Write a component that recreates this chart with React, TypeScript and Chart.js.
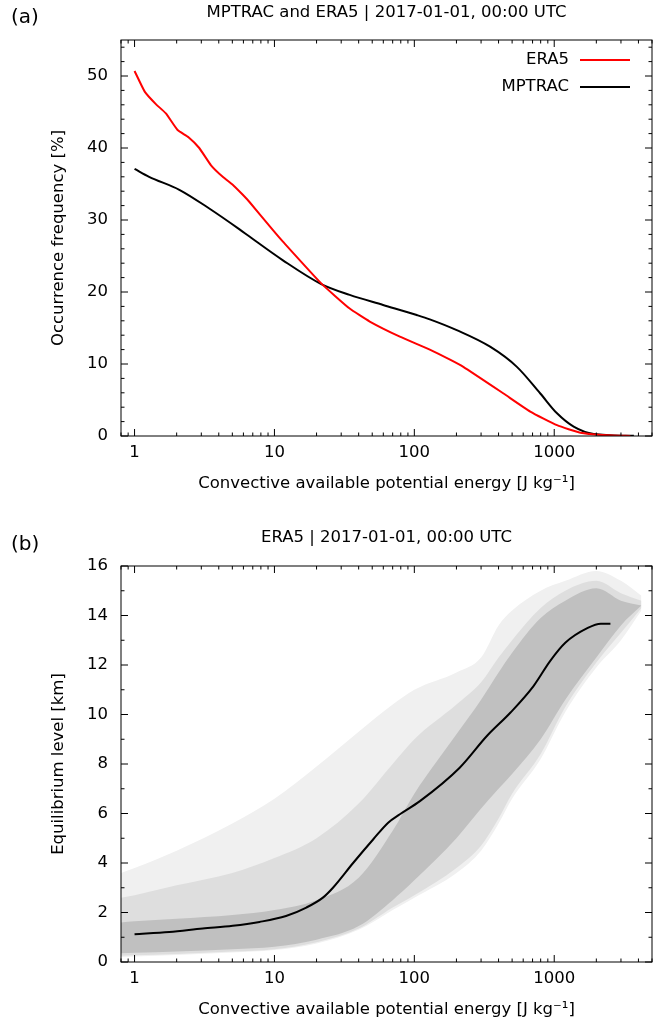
import React, { useEffect, useRef } from 'react';
import { Chart, registerables } from 'chart.js';
Chart.register(...registerables);

const FONT = "'DejaVu Sans', 'Noto Sans', sans-serif";
const FS = 16.5;

// ---------- Panel (a) data ----------
const era5Cape = [1, 1.185, 1.42, 1.675, 2.03, 2.43, 2.9, 3.52, 4.27, 5.03, 5.94, 6.63, 9.76, 11.5, 21.6, 34.5, 48, 78.8, 129, 180, 224, 434, 674, 1047, 1538, 2393, 3500];
const era5Freq = [50.7, 47.8, 46.1, 44.8, 42.5, 41.5, 40.0, 37.6, 36.0, 34.9, 33.5, 32.5, 28.6, 27.0, 21.2, 17.7, 15.9, 13.8, 12.0, 10.6, 9.6, 5.9, 3.4, 1.5, 0.46, 0.1, 0.0];
const mptracCape = [1, 1.27, 2.09, 3.42, 5.63, 6.63, 11.5, 21.6, 34.5, 59.8, 104, 129, 201, 348, 541, 795, 1047, 1377, 1916, 3710];
const mptracFreq = [37.1, 36.0, 34.2, 31.6, 28.7, 27.7, 24.4, 21.1, 19.6, 18.2, 16.8, 16.2, 14.7, 12.4, 9.6, 5.9, 3.15, 1.3, 0.28, 0.02];

// ---------- Panel (b) data ----------
const medianCape = [1, 1.77, 3.07, 5.03, 7.82, 12.1, 16.9, 22.2, 26.2, 36.5, 50.9, 65, 78.8, 109.6, 211, 330, 487, 711, 934, 1200, 1737, 2152, 2522];
const medianEL = [1.12, 1.21, 1.35, 1.46, 1.62, 1.86, 2.2, 2.6, 3.0, 4.0, 4.96, 5.63, 5.97, 6.5, 7.85, 9.13, 10.08, 11.15, 12.16, 12.9, 13.5, 13.67, 13.67];

// scatter cloud envelopes (sparse halo, medium density, dense core)
const cloudCape = [0.8, 1, 2, 5, 10, 20, 40, 70, 100, 200, 300, 400, 500, 800, 1200, 2000, 3000, 4200];
const haloUpper = [3.6, 3.8, 4.5, 5.6, 6.6, 7.9, 9.3, 10.4, 11.0, 11.7, 12.3, 13.6, 14.2, 15.0, 15.4, 15.8, 15.4, 14.8];
const haloLower = [0.2, 0.22, 0.28, 0.38, 0.48, 0.75, 1.3, 2.1, 2.6, 3.6, 4.5, 5.6, 6.6, 8.2, 10.1, 11.9, 13.0, 14.2];
const midUpper = [2.6, 2.7, 3.1, 3.6, 4.2, 5.0, 6.4, 8.0, 9.0, 10.4, 11.3, 12.3, 13.0, 14.3, 15.0, 15.4, 14.9, 14.6];
const midLower = [0.25, 0.27, 0.32, 0.42, 0.52, 0.8, 1.35, 2.2, 2.7, 3.8, 4.7, 5.8, 6.8, 8.4, 10.3, 12.1, 13.3, 14.3];
const coreUpper = [1.6, 1.65, 1.75, 1.9, 2.1, 2.5, 3.4, 5.3, 6.8, 9.2, 10.6, 11.7, 12.5, 13.9, 14.6, 15.1, 14.6, 14.4];
const coreLower = [0.35, 0.37, 0.42, 0.52, 0.62, 0.9, 1.45, 2.5, 3.3, 5.0, 6.2, 7.0, 7.6, 9.0, 10.6, 12.3, 13.6, 14.4];

// ---------- Axes ----------
const xMin = 0.8;
const xMax = 5000;
const xLabelTicks = [1, 10, 100, 1000];
const xMinorTicks = [0.8, 0.9, 2, 3, 4, 5, 6, 7, 8, 9, 20, 30, 40, 50, 60, 70, 80, 90, 200, 300, 400, 500, 600, 700, 800, 900, 2000, 3000, 4000, 5000];
const yTicksA = [0, 10, 20, 30, 40, 50];
const yMinorA = [2, 4, 6, 8, 12, 14, 16, 18, 22, 24, 26, 28, 32, 34, 36, 38, 42, 44, 46, 48, 52, 54];
const yTicksB = [0, 2, 4, 6, 8, 10, 12, 14, 16];
const yMinorB = [1, 3, 5, 7, 9, 11, 13, 15];

const xTitle = 'Convective available potential energy [J kg⁻¹]';

const pts = (xs: number[], ys: number[]) => xs.map((x, i) => ({ x, y: ys[i] }));

function frameTicks(yMajor: number[], yMinor: number[]) {
  return {
    id: 'frameTicks',
    afterDatasetsDraw(chart: any) {
      const { ctx, chartArea: a, scales } = chart;
      const xs = scales.x;
      const ys = scales.y;
      ctx.save();
      ctx.strokeStyle = '#000';
      ctx.lineWidth = 1;
      ctx.beginPath();
      const vx = (v: number, len: number) => {
        const p = xs.getPixelForValue(v);
        ctx.moveTo(p, a.bottom);
        ctx.lineTo(p, a.bottom - len);
        ctx.moveTo(p, a.top);
        ctx.lineTo(p, a.top + len);
      };
      const vy = (v: number, len: number) => {
        const p = ys.getPixelForValue(v);
        ctx.moveTo(a.left, p);
        ctx.lineTo(a.left + len, p);
        ctx.moveTo(a.right, p);
        ctx.lineTo(a.right - len, p);
      };
      xLabelTicks.forEach((v) => vx(v, 7));
      xMinorTicks.forEach((v) => vx(v, 3.5));
      yMajor.forEach((v) => vy(v, 7));
      yMinor.forEach((v) => vy(v, 3.5));
      ctx.stroke();
      ctx.strokeRect(a.left, a.top, a.right - a.left, a.bottom - a.top);
      ctx.restore();
    },
  };
}

const legendPlugin = {
  id: 'lineLegend',
  afterDatasetsDraw(chart: any) {
    const { ctx, chartArea: a } = chart;
    const ds = chart.data.datasets;
    ctx.save();
    ctx.font = `${FS}px ${FONT}`;
    ctx.textAlign = 'right';
    ctx.textBaseline = 'middle';
    ds.forEach((d: any, i: number) => {
      const y = a.top + 20 + i * 27;
      ctx.fillStyle = '#000';
      ctx.fillText(d.label, a.right - 83, y);
      ctx.strokeStyle = d.borderColor;
      ctx.lineWidth = 2;
      ctx.beginPath();
      ctx.moveTo(a.right - 72, y);
      ctx.lineTo(a.right - 22, y);
      ctx.stroke();
    });
    ctx.restore();
  },
};

function makeOptions(p: {
  title: string;
  yTitle: string;
  yMax: number;
  yTicks: number[];
  titlePadTop: number;
  titlePadBottom: number;
  xHeight: number;
  xTitlePadBottom: number;
}): any {
  return {
    responsive: false,
    animation: false,
    devicePixelRatio: 1,
    layout: { padding: { left: 0, right: 20, top: 0, bottom: 0 } },
    plugins: {
      legend: { display: false },
      tooltip: { enabled: false },
      title: {
        display: true,
        text: p.title,
        fullSize: false,
        color: '#000',
        font: { family: FONT, size: FS, weight: 'normal' },
        padding: { top: p.titlePadTop, bottom: p.titlePadBottom },
      },
    },
    scales: {
      x: {
        type: 'logarithmic',
        min: xMin,
        max: xMax,
        afterBuildTicks: (s: any) => {
          s.ticks = xLabelTicks.map((v) => ({ value: v }));
        },
        afterFit: (s: any) => {
          s.height = p.xHeight;
        },
        grid: { display: false, drawTicks: false },
        border: { display: false },
        ticks: {
          autoSkip: false,
          maxRotation: 0,
          padding: 7.1,
          color: '#000',
          font: { family: FONT, size: FS },
          callback: (v: any) => String(v),
        },
        title: {
          display: true,
          text: xTitle,
          color: '#000',
          font: { family: FONT, size: FS },
          padding: { top: 0, bottom: p.xTitlePadBottom },
        },
      },
      y: {
        type: 'linear',
        min: 0,
        max: p.yMax,
        afterBuildTicks: (s: any) => {
          s.ticks = p.yTicks.map((v) => ({ value: v }));
        },
        afterFit: (s: any) => {
          s.width = 121;
        },
        grid: { display: false, drawTicks: false },
        border: { display: false },
        ticks: {
          padding: 13,
          color: '#000',
          font: { family: FONT, size: FS },
          callback: (v: any) => String(v),
        },
        title: {
          display: true,
          text: p.yTitle,
          color: '#000',
          font: { family: FONT, size: FS },
          padding: { top: 48.4, bottom: 0 },
        },
      },
    },
  };
}

function PanelA() {
  const ref = useRef<HTMLCanvasElement>(null);
  useEffect(() => {
    const chart = new Chart(ref.current as HTMLCanvasElement, {
      type: 'line',
      data: {
        datasets: [
          {
            label: 'ERA5',
            data: pts(era5Cape, era5Freq),
            borderColor: '#ff0000',
            borderWidth: 2,
            pointRadius: 0,
            tension: 0.15,
            fill: false,
          },
          {
            label: 'MPTRAC',
            data: pts(mptracCape, mptracFreq),
            borderColor: '#000000',
            borderWidth: 2,
            pointRadius: 0,
            cubicInterpolationMode: 'monotone',
            fill: false,
          },
        ],
      },
      options: makeOptions({
        title: 'MPTRAC and ERA5 | 2017-01-01, 00:00 UTC',
        yTitle: 'Occurrence frequency [%]',
        yMax: 55,
        yTicks: yTicksA,
        titlePadTop: 3.1,
        titlePadBottom: 17.1,
        xHeight: 69,
        xTitlePadBottom: 11.1,
      }),
      plugins: [frameTicks(yTicksA, yMinorA), legendPlugin],
    } as any);
    return () => chart.destroy();
  }, []);
  return <canvas ref={ref} width={672} height={505} style={{ display: 'block', width: 672, height: 505 }} />;
}

function PanelB() {
  const ref = useRef<HTMLCanvasElement>(null);
  useEffect(() => {
    const band = (label: string, ys: number[], color: string | null) => ({
      label,
      data: pts(cloudCape, ys),
      borderWidth: 0,
      borderColor: 'rgba(0,0,0,0)',
      backgroundColor: color || 'rgba(0,0,0,0)',
      pointRadius: 0,
      cubicInterpolationMode: 'monotone',
      fill: color ? '+1' : false,
    });
    const chart = new Chart(ref.current as HTMLCanvasElement, {
      type: 'line',
      data: {
        datasets: [
          {
            label: 'median',
            data: pts(medianCape, medianEL),
            borderColor: '#000000',
            borderWidth: 2,
            pointRadius: 0,
            cubicInterpolationMode: 'monotone',
            fill: false,
          },
          band('core upper', coreUpper, '#c0c0c0'),
          band('core lower', coreLower, null),
          band('mid upper', midUpper, '#dedede'),
          band('mid lower', midLower, null),
          band('halo upper', haloUpper, '#f0f0f0'),
          band('halo lower', haloLower, null),
        ],
      },
      options: makeOptions({
        title: 'ERA5 | 2017-01-01, 00:00 UTC',
        yTitle: 'Equilibrium level [km]',
        yMax: 16,
        yTicks: yTicksB,
        titlePadTop: 23.1,
        titlePadBottom: 18.1,
        xHeight: 59,
        xTitlePadBottom: 1.1,
      }),
      plugins: [frameTicks(yTicksB, yMinorB)],
    } as any);
    return () => chart.destroy();
  }, []);
  return <canvas ref={ref} width={672} height={516} style={{ display: 'block', width: 672, height: 516 }} />;
}

export default function App() {
  const tag: React.CSSProperties = {
    position: 'absolute',
    left: 11,
    fontFamily: FONT,
    fontSize: 20,
    lineHeight: '20px',
    color: '#000',
  };
  return (
    <div style={{ position: 'absolute', left: 0, top: 0, width: 672, height: 1021, background: '#fff', overflow: 'hidden' }}>
      <div style={{ position: 'absolute', left: 0, top: 0 }}>
        <PanelA />
      </div>
      <div style={{ position: 'absolute', left: 0, top: 505 }}>
        <PanelB />
      </div>
      <div style={{ ...tag, top: 6 }}>(a)</div>
      <div style={{ ...tag, top: 533 }}>(b)</div>
    </div>
  );
}
